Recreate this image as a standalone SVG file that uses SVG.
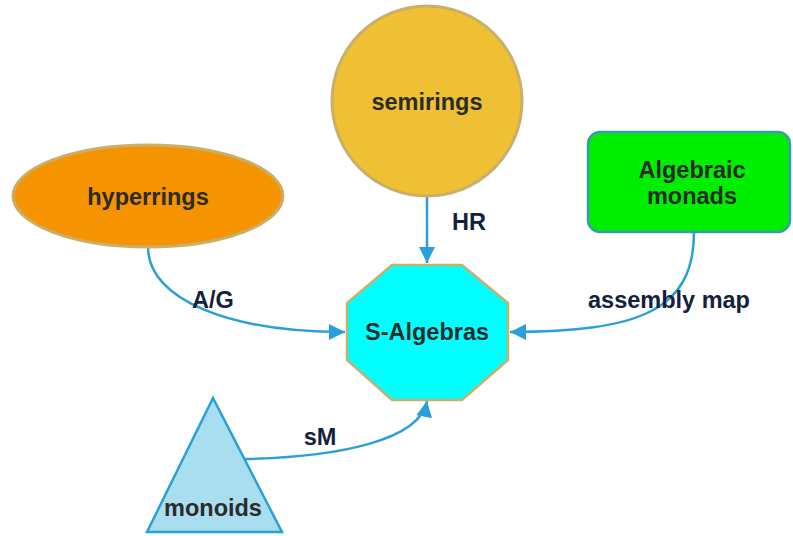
<svg xmlns="http://www.w3.org/2000/svg" width="793" height="536" viewBox="0 0 793 536">
<style>
.node-text{font-family:"Liberation Sans",Arial,sans-serif;font-weight:bold;font-size:23.5px;fill:#2b2b2b;text-anchor:middle;dominant-baseline:central}
.edge-label{font-family:"Liberation Sans",Arial,sans-serif;font-weight:bold;font-size:23.5px;fill:#14213d;text-anchor:middle;dominant-baseline:central}
.edge{fill:none;stroke:#2ba0d8;stroke-width:2.5}
</style>
<defs>
<marker id="arrow" markerUnits="userSpaceOnUse" markerWidth="18" markerHeight="16" refX="16" refY="8" orient="auto">
<path d="M0,0 L16,8 L0,16 Z" fill="#2ba0d8"/>
</marker>
</defs>
<rect width="793" height="536" fill="#ffffff"/>
<g id="connectors">
<path class="edge" d="M427,197 L427,263" marker-end="url(#arrow)"/>
<path class="edge" d="M148,247 C148,300 230,332 345,332" marker-end="url(#arrow)"/>
<path class="edge" d="M694,232 C694,310 640,332 510,332" marker-end="url(#arrow)"/>
<path class="edge" d="M245,459 C340,457 420,440 427,401" marker-end="url(#arrow)"/>
<text class="edge-label" x="469" y="222">HR</text>
<text class="edge-label" x="213" y="300">A/G</text>
<text class="edge-label" x="669" y="300">assembly map</text>
<text class="edge-label" x="320" y="437">sM</text>
</g>
<g id="semirings">
<circle cx="427" cy="101" r="95" fill="#efc034" stroke="#c9b06a" stroke-width="3"/>
<text class="node-text" x="427" y="102">semirings</text>
</g>
<g id="hyperrings">
<ellipse cx="148" cy="196" rx="135" ry="51" fill="#f59400" stroke="#c9b06a" stroke-width="3"/>
<text class="node-text" x="148" y="197">hyperrings</text>
</g>
<g id="algebraic-monads">
<rect x="588" y="132" width="202" height="100" rx="12" fill="#00ee00" stroke="#3a9ab0" stroke-width="2.5"/>
<text class="node-text" x="692" y="170">Algebraic</text>
<text class="node-text" x="692" y="196">monads</text>
</g>
<g id="s-algebras">
<polygon points="392,265 462,265 508,303 508,360 462,400 392,400 347,360 347,303" fill="#00ffff" stroke="#c9b06a" stroke-width="2.5"/>
<text class="node-text" x="427" y="332">S-Algebras</text>
</g>
<g id="monoids">
<polygon points="213,398 282,532 147,532" fill="#a8def0" stroke="#2ba0d8" stroke-width="2.5"/>
<text class="node-text" x="213" y="508">monoids</text>
</g>
</svg>
